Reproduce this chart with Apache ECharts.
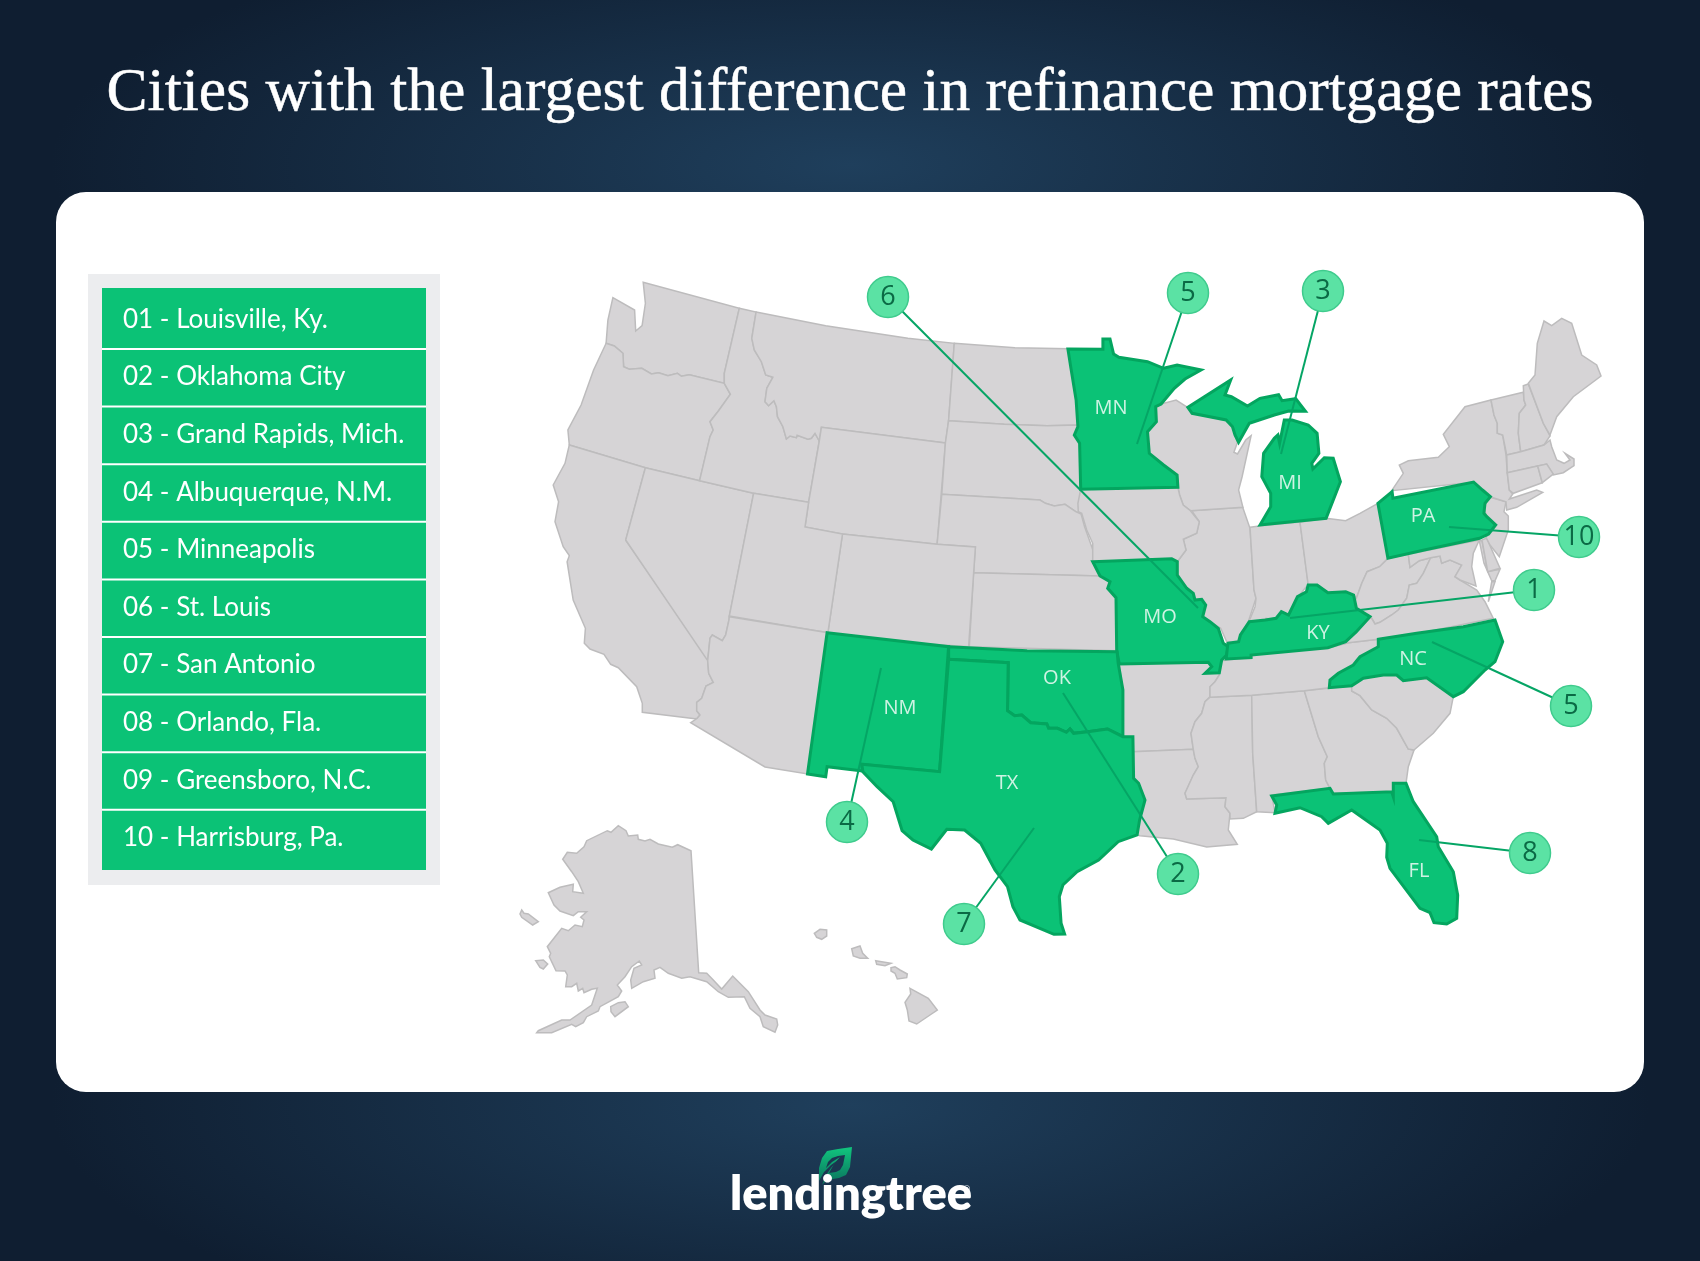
<!DOCTYPE html>
<html><head><meta charset="utf-8">
<style>
html,body{margin:0;padding:0;width:1700px;height:1261px;overflow:hidden;
background:
 radial-gradient(ellipse 800px 250px at 850px 165px,#1f3f5c 0%,rgba(31,63,92,0) 100%),
 radial-gradient(ellipse 800px 250px at 850px 1105px,#1f3f5c 0%,rgba(31,63,92,0) 100%),
 #0f1e31;}
#c{width:1700px;height:1261px}
</style>
<script src="https://cdn.jsdelivr.net/npm/echarts@6/dist/echarts.min.js"></script>
</head><body><div id="c"></div>
<script>
const titleText = 'Cities with the largest difference in refinance mortgage rates';
const cityList = ['01 - Louisville, Ky.','02 - Oklahoma City','03 - Grand Rapids, Mich.','04 - Albuquerque, N.M.','05 - Minneapolis','06 - St. Louis','07 - San Antonio','08 - Orlando, Fla.','09 - Greensboro, N.C.','10 - Harrisburg, Pa.'];
const highlightedStates = ['MN','MI','PA','MO','KY','NC','OK','NM','TX','FL'];
const stateLabelPoints = [['MN',1111,408],['MI',1290,483],['PA',1423,516],['MO',1160,617],['KY',1318,633],['NC',1413,659],['OK',1057,678],['NM',900,708],['TX',1007,783],['FL',1419,871]];
const pinNumbers = ['6','5','3','10','1','5','8','2','7','4'];
const pinPoints = [[888,297],[1188,293],[1323,291],[1579,537],[1534,590],[1571,706],[1530,853],[1178,874],[964,924],[847,822]];
const pinTargets = [[1198,608],[1137,444],[1281,454],[1449,527],[1290,618],[1432,642],[1419,840],[1063,693],[1034,828],[881,668]];

/* Map outlines, traced in map units from the picture */
const fr={A:[540,260,2.8,3],B:[1060,280,2.8,3],C:[670,620,2.8,3],D:[1130,620,3,3],E:[510,810,3,3],G:[590,620,3,3],H:[1360,530,3,3],I:[1060,500,3,3],J:[1380,300,3,3]};
function T(f,a){const o=[],q=fr[f];for(let i=0;i<a.length;i+=2)o.push([+(q[0]+a[i]/q[2]).toFixed(1),+(q[1]+a[i+1]/q[3]).toFixed(1)]);return o;}
function R(){const o=[];for(let i=0;i<arguments.length;i+=2)o.push(...T(arguments[i],arguments[i+1]));o.push(o[0]);return o;}
const stateShapes={
WA:[R('A',[204,113,265,150,268,213,286,197,295,130,289,67,558,145,516,340,516,370,418,344,396,349,385,340,358,347,332,338,312,342,285,325,250,328,234,320,232,280,208,258,185,250,190,180])],
OR:[R('A',[185,250,208,258,232,280,234,320,250,328,285,325,312,342,332,338,358,347,385,340,396,349,418,344,516,370,533,403,500,452,476,485,485,510,476,530,447,662,295,623,82,555,78,510,115,435,150,330])],
CA:[R('A',[82,555,295,623,240,840,470,1195],'G',[353,122,356,160,370,187,348,198,335,235,320,247,320,272,330,285,322,295,315,296,157,277,157,250,140,200,85,143,62,133,42,103,0,87],'A',[124,1150,127,1105,93,1020,76,905,82,887,65,860,42,785,52,725,37,675,70,610])],
NV:[R('A',[295,623,447,662,598,700,530,1070],'G',[417,0,407,45,397,62,367,45,360,55,353,122],'A',[240,840])],
ID:[R('A',[558,145,605,156,593,235,600,270,620,305,632,345,652,352,635,385,630,425,640,437,655,422,662,440,665,470,680,500,690,537,700,528,718,533,720,526,750,538,760,535,770,520,782,543,752,727,598,700,447,662,476,530,485,510,476,485,500,452,533,403,516,370,516,340])],
MT:[R('A',[605,156,800,197,1030,235,1160,250,1144,482,1135,549,788,502,782,543,770,520,760,535,750,538,720,526,718,533,700,528,690,537,680,500,665,470,662,440,655,422,640,437,630,425,635,385,652,352,632,345,620,305,600,270,593,235])],
WY:[R('A',[788,502,1135,549,1112,853,847,822,742,801,752,727,782,543])],
ND:[R('A',[1160,250,1330,263,1480,266,1490,340,1500,400,1508,495,1420,497,1300,493,1144,482])],
SD:[R('A',[1144,482,1300,493,1420,497,1508,495,1497,525,1512,545,1515,690,1508,740,1515,762,1500,755,1470,733,1440,738,1415,730,1400,720,1125,703,1135,549])],
NE:[R('A',[1125,703,1400,720,1415,730,1440,738,1470,733,1500,755,1515,762,1525,800,1535,830,1548,870],'I',[98,185,120,228],'A',[1214,938,1219,861,1112,853])],
KS:[R('A',[1214,938],'I',[120,228,150,245,143,265,168,293,170,452],'C',[838,80])],
CO:[R('A',[847,822,1112,853,1219,861,1200,1160,1000,1145,806,1118])],
UT:[R('A',[598,700,752,727,742,801,847,822,806,1118,530,1068])],
AZ:[R('A',[530,1070,806,1118],'C',[385,462],'G',[525,441,302,308,322,295,330,285,320,272,320,247,335,235,348,198,370,187,356,160,353,122,360,55,367,45,397,62,407,45,417,0])],
AR:[R('I',[178,492,445,487,455,500,435,520,478,518],'D',[268,165,255,185,240,200,240,230,225,245,215,280,195,305,183,340,190,388,8,395],'C',[1296,350,1268,350,1268,210])],
LA:[R('D',[8,395,190,388,195,415,205,440,190,465,165,520,170,537,288,533,285,560,300,580,295,630,322,673,230,681,130,657,30,647],'C',[1308,645,1315,600,1330,540,1312,490,1298,475,1296,395])],
MS:[R('D',[240,232,365,226,368,400,380,575,340,595,300,597,300,580,285,560,288,533,170,537,165,520,190,465,205,440,195,415,190,388,183,340,195,305,215,280,225,245])],
AL:[R('D',[365,226,523,212,565,350,592,410,583,430,587,480,600,505,425,525,435,578,380,575,368,400])],
GA:[R('D',[523,212,665,197,665,213,690,227,725,270,770,295,800,325,835,387,852,390,835,440,828,490,790,490,790,515,610,520,600,505,587,480,583,430,592,410,565,350])],
SC:[R('D',[665,197,700,175,760,165,800,165,820,182,890,173,970,230,960,280,910,340,852,390,835,387,800,325,770,295,725,270,690,227,665,213])],
TN:[R('D',[275,122,365,112,370,100,590,85,655,68,745,58,745,80,690,110,670,135,625,160,600,180,598,203,523,212,365,226,240,232,240,200,255,185,268,165])],
IL:[R('I',[395,32,548,22,570,85,582,270,588,295,565,365,540,410,540,430,500,425,482,385,450,365,428,350,437,315,425,298,405,300,400,280,380,265,352,225,352,185,378,150,370,118,410,100,418,65])],
IN:[R('I',[570,82,598,78,720,66,745,255,735,265,715,290,695,335,685,350,665,335,645,360,618,355,600,365,565,370,585,320,588,295,582,270])],
OH:[R('B',[672,727,745,715,800,722,840,700,890,670,918,835,895,860,860,875,845,910,830,955,822,945,800,935,750,938,720,915,695,915])],
WV:[R('H',[85,85,145,73,150,112,178,92,212,83,190,130,170,160,148,165,140,205,115,240,95,255,60,277,45,282,33,262],'B',[830,985,822,945,830,955,845,910,860,875,895,860])],
VA:[R('H',[400,265,375,215,350,180,300,150,285,140,305,105,270,90,245,100,240,78,212,83,190,130,170,160,148,165,140,205,115,240,95,255,60,277,45,282,33,262],'B',[830,1055,800,1085,750,1103],'D',[655,68,745,58],'H',[200,305]),R('H',[385,215,405,155,395,155])],
MD:[R('H',[145,73,358,30,340,70,335,110,348,168,300,150,285,140,305,105,270,90,245,100,240,78,212,83,178,92,150,112]),R('H',[358,32,366,32,383,125,420,118,405,152,395,152,372,100])],
DE:[R('H',[366,30,380,24,392,52,420,115,383,125])],
NJ:[R('J',[325,590,378,605,372,635,385,648,385,690,358,770,330,735,318,712,345,672,320,650,312,625])],
NY:[R('J',[35,572,70,520,58,495,85,482,175,472,208,440,190,403,255,320,333,300,342,345,352,370,352,400,368,405,378,465,382,520,388,570,398,582,388,597,470,570,488,577,410,622,380,630,378,605,330,590,305,570,280,547])],
VT:[R('J',[333,300,430,277,432,300,437,315,418,340,415,400,422,455,380,465,368,405,352,400,352,370,342,345])],
NH:[R('J',[430,257,445,252,490,370,510,408,492,435,422,455,415,400,418,340,437,315,432,300])],
ME:[R('J',[445,250,465,225,472,130,492,63,515,77,545,55,575,70,605,165,650,195,663,228,580,290,530,350,510,405,490,370])],
MA:[R('J',[380,465,422,455,492,435,510,420,515,440,530,480,552,490,570,480,555,460,582,477,582,497,550,518,520,525,500,492,382,518])],
CT:[R('J',[382,518,473,498,487,548,400,580,388,570])],
RI:[R('J',[473,498,500,492,520,522,487,548])],
WI:[R('B',[283,372,325,360,357,382,370,400,465,420,483,440,490,465,497,487,487,517,497,522,520,480,535,467,510,590,500,630,512,682,365,692,345,675,335,645,330,622,328,585,290,555,250,520,245,455,270,425,268,380])],
IA:[R('B',[58,628,330,622,335,645,345,675,365,692],'I',[418,65,410,100,370,118,378,150,352,185,335,176,98,185,98,130,80,90,65,40,55,35],'B',[50,670])],
AK:[R('E',[80,668,85,662,155,630,180,630,245,585,262,535,245,538,222,548,218,535,205,543,200,520,185,530,167,530,172,495,165,483,138,482,118,440,122,430,112,410,155,355,175,362,195,345,217,350,222,330,212,322,230,305,205,305,190,317,150,303,132,285,115,248,150,232,190,223,188,245,220,250,205,215,185,185,158,148,172,127,200,130,222,110,230,92,292,62,303,67,325,47,348,62,355,78,383,75,385,88,405,93,420,88,445,102,487,112,503,104,543,122,566,488,590,490,610,510,635,537,668,498,715,545,750,600,765,615,800,627,803,645,795,667,760,650,750,620,720,595,703,560,655,562,625,545,590,515,540,500,515,505,475,490,450,472,432,480,435,505,400,515,365,535,362,510,372,475,395,465,388,453,365,470,345,500,322,525,335,543,325,560,270,590,265,603,230,620,220,638,197,650,185,643,125,668]),
 R('E',[35,300,42,310,55,312,85,335,68,345,35,322,30,312]),R('E',[77,452,100,450,113,462,100,477,90,472]),R('E',[302,590,325,578,345,575,355,590,315,620,303,605])],
HI:[R('E',[913,370,930,358,950,360,950,378,935,388,920,382]),R('E',[1025,416,1050,408,1058,430,1073,445,1050,445,1030,438]),R('E',[1097,452,1143,460,1125,467,1100,463]),R('E',[1143,473,1155,470,1170,480,1192,492,1190,503,1162,507,1155,490,1143,483]),R('E',[1200,535,1255,565,1282,600,1260,615,1220,642,1197,633,1192,600,1185,577,1202,552])],
MO:[R('I',[98,185,335,176,352,185,352,225,380,265,400,280,405,300,425,298,437,315,428,350,450,365,475,385,490,430,505,440,500,465,485,480,478,518,435,520,455,500,445,487,178,492,170,452,168,293,143,265,150,245,120,228])],
KY:[R('B',[470,1090,500,1085,505,1065,530,1025,575,1020,605,1015,620,995,640,1005,665,950,690,935,695,915,720,915,750,938,800,935,822,945,830,985,868,1010,830,1055,800,1085,750,1103,535,1125,535,1133,465,1137])],
PA:[R('B',[890,670,930,635,932,655,1158,606,1183,630,1205,650,1190,670,1187,700,1195,710,1220,735,1200,762,1175,775,1020,810,918,835])],
MN:[R('B',[22,207,120,208,120,177,140,177,150,222,165,232,245,245,290,265,328,255,395,270,350,297,320,325,283,372,268,380,270,425,245,455,250,520,290,555,328,585,330,622,58,628,55,490,40,465,50,440,45,360,30,260])],
MI:[R('B',[560,735,590,680,590,640,565,590,570,520,600,475,610,465,615,490,628,420,650,420,695,435,720,460,725,520,705,550,708,567,740,533,765,535,785,605,745,715]),
 R('B',[358,382,478,300,462,345,480,350,525,378,560,355,612,344,622,362,660,356,687,394,640,393,600,405,530,430,500,487,490,465,483,440,465,420,370,400])],
NC:[R('D',[745,58,860,40,1000,20,1095,0,1118,65,1095,125,1065,150,1000,215,970,230,890,173,820,182,800,165,760,165,700,175,665,197,598,203,600,180,625,160,670,135,690,110,745,80])],
FL:[R('D',[425,528,600,505,610,522,785,515,790,530,790,490,828,490,850,545,920,650,925,680,970,755,983,825,980,895,950,912,912,908,900,878,870,865,780,745,770,712,772,670,750,630,665,570,595,610,575,590,510,563,435,580,440,555])],
NM:[R('C',[440,38,780,80,755,455,537,433,540,453,440,440,436,470,385,462])],
OK:[R('C',[780,80,1000,92,1252,95,1255,130,1268,210,1268,350,1225,327,1170,335,1130,340,1120,327,1110,337,1085,325,1060,325,1055,312,1010,308,985,285,965,287,945,272,947,128,780,118])],
TX:[R('C',[780,118,947,128,945,272,965,287,985,285,1010,308,1055,312,1060,325,1085,325,1110,337,1120,327,1130,340,1170,335,1225,327,1268,350,1296,350,1298,475,1312,490,1330,540,1315,600,1308,645,1255,665,1200,720,1140,755,1100,795,1090,830,1095,910,1105,942,1075,943,980,900,960,860,945,800,910,750,870,670,825,630,775,628,732,687,680,660,650,632,625,545,580,500,540,455,537,433,755,455])]
};
const features=Object.keys(stateShapes).map(n=>({type:'Feature',properties:{name:n},geometry:{type:'MultiPolygon',coordinates:stateShapes[n].map(r=>[r])}}));
echarts.registerMap('usTrace',{type:'FeatureCollection',features});
let x0=1e9,y0=1e9,x1=-1e9,y1=-1e9;
Object.values(stateShapes).forEach(s=>s.forEach(r=>r.forEach(p=>{x0=Math.min(x0,p[0]);x1=Math.max(x1,p[0]);y0=Math.min(y0,p[1]);y1=Math.max(y1,p[1]);})));

const GREEN='#0bc276',GREENB='#04a55f';
const rowTop=288,rowBottom=870,rowPitch=57.6,rowX=102,rowW=324;
const gfx=[
 {type:'rect',shape:{x:56,y:192,width:1588,height:900,r:30},style:{fill:'#fff'}},
 {type:'rect',shape:{x:88,y:274,width:352,height:611},style:{fill:'#ecedef'}},
 {type:'rect',shape:{x:rowX,y:rowTop,width:rowW,height:rowBottom-rowTop},style:{fill:GREEN}}
];
cityList.forEach((t,i)=>{
 if(i>0)gfx.push({type:'rect',shape:{x:rowX,y:rowTop+60+(i-1)*rowPitch,width:rowW,height:2},style:{fill:'#fff'}});
 gfx.push({type:'text',style:{text:t,x:123,y:319.5+i*rowPitch,fill:'#fff',font:'400 26px Lato',textVerticalAlign:'middle'}});
});
// logo
gfx.push({type:'polygon',shape:{points:[[852,1147],[838,1149],[827,1151],[822,1158],[819,1168],[819,1181],[824,1172],[831,1165],[838,1160],[831,1168],[826,1175],[822,1185],[827,1180],[833,1179],[839,1178],[846,1175],[850,1167]]},style:{fill:new echarts.graphic.LinearGradient(0,0,0,1,[{offset:0,color:'#11c67e'},{offset:1,color:'#0a6f5c'}])}});
gfx.push({type:'polygon',shape:{points:[[845,1155],[838,1156],[832,1158],[828,1162],[826,1168],[832,1162],[840,1157],[834,1164],[829,1173],[836,1172],[840,1170],[843,1165]]},style:{fill:'#1a3650'}});
gfx.push({type:'text',style:{text:'lendingtree',x:730,y:1218,fill:'#fff',font:'800 47px Lato',textVerticalAlign:'bottom'}});
gfx.push({type:'text',style:{text:'®',x:963,y:1186,fill:'#fff',font:'400 9px Lato'}});
gfx.forEach(g=>{g.silent=true;g.z=0;});

const chart=echarts.init(document.getElementById('c'),null,{renderer:'canvas',width:1700,height:1261});
chart.setOption({
 animation:false,
 backgroundColor:'transparent',
 title:{text:titleText,left:'center',top:58,textStyle:{color:'#fff',fontFamily:'Liberation Serif',fontWeight:'normal',fontSize:61.5,textBorderColor:'#fff',textBorderWidth:0.5}},
 graphic:{elements:gfx},
 geo:{map:'usTrace',z:5,silent:true,roam:false,aspectScale:1,
  projection:{project:p=>p,unproject:p=>p},
  left:x0,top:y0,width:x1-x0,height:y1-y0,
  label:{show:false},
  itemStyle:{areaColor:'#d6d4d6',borderColor:'#bdbcbd',borderWidth:1.5},
  emphasis:{disabled:true},
  regions:highlightedStates.map(n=>({name:n,itemStyle:{areaColor:GREEN,borderColor:GREENB,borderWidth:3}}))
 },
 series:[
  {type:'lines',coordinateSystem:'geo',z:6,silent:true,polyline:false,
   lineStyle:{color:'#05a565',width:2,opacity:1,curveness:0},
   data:pinPoints.map((p,i)=>({coords:[p,pinTargets[i]]}))},
  {type:'scatter',coordinateSystem:'geo',z:7,silent:true,symbol:'circle',symbolSize:41,
   itemStyle:{color:'#5be2a4',borderColor:'#3fcb8d',borderWidth:1.5,opacity:1},
   label:{show:true,position:'inside',color:'#0b6a45',fontFamily:'Open Sans',fontSize:27,formatter:d=>d.name},
   data:pinPoints.map((p,i)=>({name:pinNumbers[i],value:p}))},
  {type:'scatter',coordinateSystem:'geo',z:7,silent:true,symbolSize:1,itemStyle:{color:'transparent'},
   label:{show:true,position:'inside',color:'#fff',fontFamily:'Open Sans',fontSize:20,formatter:d=>d.name},
   data:stateLabelPoints.map(s=>({name:s[0],value:[s[1],s[2]]}))}
 ]
});
</script></body></html>
